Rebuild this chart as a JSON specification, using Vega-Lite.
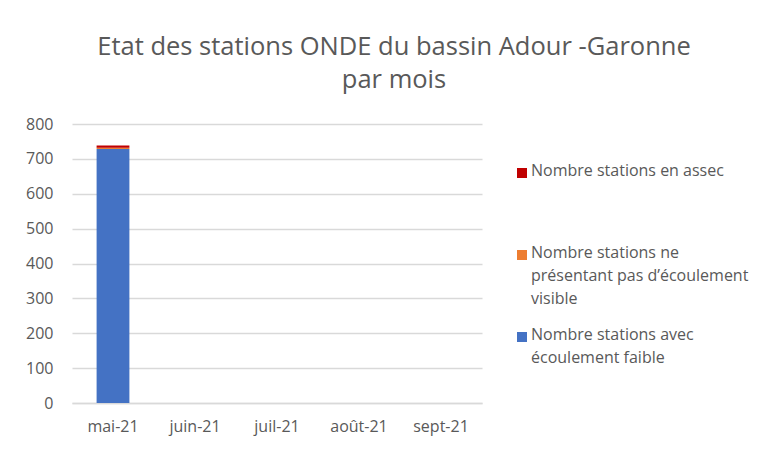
{
  "$schema": "https://vega.github.io/schema/vega-lite/v6.json",
  "autosize": "none",
  "width": 410,
  "height": 279,
  "padding": {"left": 72, "top": 124, "right": 285, "bottom": 48},
  "background": "white",
  "title": {
    "text": ["Etat des stations ONDE du bassin Adour -Garonne", "par mois"],
    "anchor": "middle",
    "frame": "group",
    "dx": 117,
    "offset": 23,
    "fontSize": 25.5,
    "fontWeight": "normal",
    "font": "Open Sans",
    "color": "#595959",
    "lineHeight": 33
  },
  "data": {
    "values": [
      {"mois": "mai-21", "serie": "Nombre stations avec écoulement faible", "ordre": 1, "valeur": 728},
      {"mois": "mai-21", "serie": "Nombre stations ne présentant pas d’écoulement visible", "ordre": 2, "valeur": 4},
      {"mois": "mai-21", "serie": "Nombre stations en assec", "ordre": 3, "valeur": 6},
      {"mois": "juin-21", "serie": "Nombre stations avec écoulement faible", "ordre": 1, "valeur": 0},
      {"mois": "juil-21", "serie": "Nombre stations avec écoulement faible", "ordre": 1, "valeur": 0},
      {"mois": "août-21", "serie": "Nombre stations avec écoulement faible", "ordre": 1, "valeur": 0},
      {"mois": "sept-21", "serie": "Nombre stations avec écoulement faible", "ordre": 1, "valeur": 0}
    ]
  },
  "mark": {"type": "bar"},
  "encoding": {
    "x": {
      "field": "mois",
      "type": "nominal",
      "sort": ["mai-21", "juin-21", "juil-21", "août-21", "sept-21"],
      "scale": {"paddingInner": 0.6, "paddingOuter": 0.3},
      "axis": {
        "title": null,
        "labelAngle": 0,
        "ticks": false,
        "domainColor": "#D9D9D9",
        "domainWidth": 1.5,
        "labelPadding": 15,
        "labelFontSize": 16,
        "labelFont": "Open Sans",
        "labelColor": "#595959"
      }
    },
    "y": {
      "field": "valeur",
      "type": "quantitative",
      "stack": "zero",
      "scale": {"domain": [0, 800], "nice": false},
      "axis": {
        "title": null,
        "values": [0, 100, 200, 300, 400, 500, 600, 700, 800],
        "ticks": false,
        "domain": false,
        "gridColor": "#D9D9D9",
        "gridWidth": 1.5,
        "labelPadding": 19,
        "labelFontSize": 16,
        "labelFont": "Open Sans",
        "labelColor": "#595959"
      }
    },
    "color": {
      "field": "serie",
      "type": "nominal",
      "scale": {
        "domain": ["Nombre stations en assec", "Nombre stations ne présentant pas d’écoulement visible", "Nombre stations avec écoulement faible"],
        "range": ["#C00000", "#ED7D31", "#4472C4"]
      },
      "legend": {
        "title": null,
        "orient": "none",
        "legendX": 442,
        "legendY": 41,
        "symbolType": "square",
        "symbolSize": 100,
        "symbolStrokeWidth": 0,
        "labelFontSize": 16,
        "labelFont": "Open Sans",
        "labelColor": "#595959",
        "labelLimit": 300,
        "labelOffset": 1,
        "gridAlign": "all",
        "rowPadding": 20,
        "labelBaseline": "top",
        "labelExpr": "datum.label == 'Nombre stations ne présentant pas d’écoulement visible' ? ['Nombre stations ne', 'présentant pas d’écoulement', 'visible'] : datum.label == 'Nombre stations avec écoulement faible' ? ['Nombre stations avec', 'écoulement faible'] : datum.label",
        "encode": {
          "labels": {
            "update": {
              "lineHeight": {"value": 23},
              "dy": {"value": -10}
            }
          }
        }
      }
    },
    "order": {"field": "ordre", "type": "quantitative"}
  },
  "config": {
    "view": {"stroke": null}
  }
}
